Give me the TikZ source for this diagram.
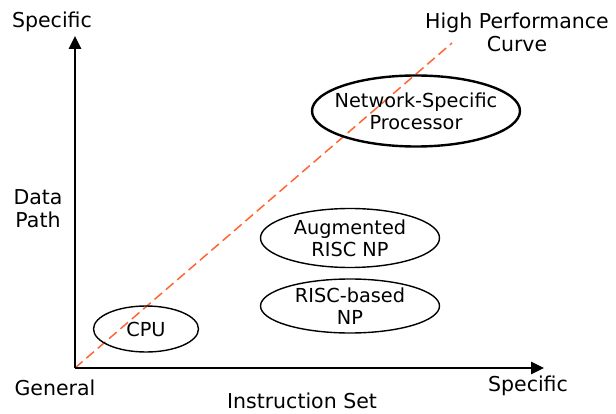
\documentclass[tikz,border=0pt]{standalone}
\usepackage{fontspec}
\setmainfont{DejaVu Sans}
\usetikzlibrary{shapes.geometric,arrows.meta}
\definecolor{hpc}{HTML}{FF6633}
\tikzset{
  lbl/.style={font=\fontsize{20.5}{23}\selectfont, align=center, inner sep=0pt},
  ovaltext/.style={font=\fontsize{19.3}{22}\selectfont, align=center, inner sep=0pt},
  oval/.style={ellipse, draw, line width=1.4pt, inner sep=0pt},
  axis/.style={line width=2.6pt, -{Triangle[length=13pt,width=12pt]}},
}
\begin{document}
\begin{tikzpicture}[x=1pt,y=-1pt]
\useasboundingbox (0,0) rectangle (616,414);
\coordinate (O) at (75,368);
\coordinate (Ytop) at (75,36);
\coordinate (Xend) at (544,368);
\coordinate (Ctop) at (452,43);
\draw[hpc, line width=1.5pt, dash pattern=on 10pt off 5pt] (O) -- (Ctop);
\draw[axis] (O) -- (Ytop);
\draw[axis] (O) -- (Xend);
\node[oval, line width=2.4pt, minimum width=208pt, minimum height=71pt] (nsp) at (416,111) {};
\node[oval, minimum width=179pt, minimum height=59pt] (arn) at (350,238) {};
\node[oval, minimum width=179pt, minimum height=54pt] (rbn) at (350,306) {};
\node[oval, minimum width=105pt, minimum height=46pt] (cpu) at (146,329) {};
\node[ovaltext] (nspt) at (nsp.center) {Network-Specific\\Processor};
\node[ovaltext] (arnt) at (arn.center) {Augmented\\RISC NP};
\node[ovaltext] (rbnt) at (rbn.center) {RISC-based\\NP};
\node[ovaltext] (cput) at (cpu.center) {CPU};
\node[lbl] (yspec) at (52,22) {Specific};
\node[lbl] (hpcl) at (517,32) {High Performance\\Curve};
\node[lbl] (dp) at (38,209) {Data\\Path};
\node[lbl] (gen) at (55,388) {General};
\node[lbl] (xspec) at (528,386) {Specific};
\node[lbl] (is) at (302,401) {Instruction Set};
\end{tikzpicture}
\end{document}
